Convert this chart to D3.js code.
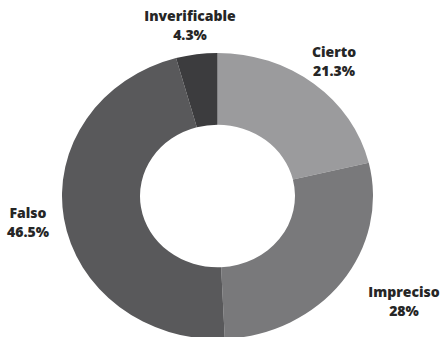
<!DOCTYPE html>
<html>
<head>
<meta charset="utf-8">
<script src="https://cdn.jsdelivr.net/npm/d3@7/dist/d3.min.js"></script>
<style>
  html, body { margin: 0; padding: 0; background: #fff; }
  svg { display: block; }
</style>
</head>
<body>
<svg id="chart" width="444" height="337"></svg>
<script>
// Categories and shares (percent), clockwise from 12 o'clock
const categories = ["Cierto", "Impreciso", "Falso", "Inverificable"];
const shares = [21.3, 28, 46.5, 4.3];
const shareLabels = ["21.3%", "28%", "46.5%", "4.3%"];

// Slice fills
const fills = ["#9b9b9d", "#79797b", "#59595b", "#3c3c3e"];

// Label anchors (text block centre x, first baseline y)
const labelAnchors = [[334, 57], [404, 297], [28, 218], [190, 21]];

const width = 444, height = 337;
const cx = 217.5, cy = 196;
const outerR = 155.5, innerR = 77.5;
const squash = 0.92;

const svg = d3.select("#chart");

const pie = d3.pie().sort(null).value(d => d.value);
const arc = d3.arc().innerRadius(innerR).outerRadius(outerR);

const data = categories.map((c, i) => ({ name: c, value: shares[i], label: shareLabels[i], i }));

const g = svg.append("g")
  .attr("transform", `translate(${cx},${cy}) scale(1,${squash})`);

g.selectAll("path")
  .data(pie(data))
  .join("path")
  .attr("d", arc)
  .attr("fill", d => fills[d.data.i]);

const labels = svg.append("g")
  .attr("font-family", "'Open Sans', 'DejaVu Sans', sans-serif")
  .attr("font-weight", 800)
  .attr("font-size", 14)
  .attr("fill", "#262626")
  .attr("text-anchor", "middle");

const lbl = labels.selectAll("text")
  .data(data)
  .join("text")
  .attr("x", d => labelAnchors[d.i][0])
  .attr("y", d => labelAnchors[d.i][1]);

lbl.append("tspan")
  .attr("x", d => labelAnchors[d.i][0])
  .text(d => d.name);
lbl.append("tspan")
  .attr("x", d => labelAnchors[d.i][0])
  .attr("dy", 19)
  .text(d => d.label);
</script>
</body>
</html>
